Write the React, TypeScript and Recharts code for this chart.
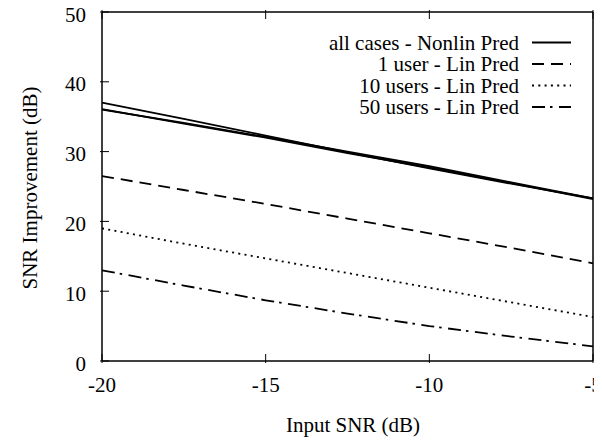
import { LineChart, Line, XAxis, YAxis, Legend } from "recharts";

// input SNR (dB)
const snr = [-20, -17.5, -15, -12.5, -10, -7.5, -5];

// SNR improvement (dB)
const nonlinA = [37.0, 34.7, 32.3, 29.9, 27.6, 25.4, 23.3];
const nonlinB = [36.0, 34.1, 32.1, 30.0, 27.9, 25.6, 23.3];
const nonlinC = [36.1, 34.0, 32.0, 29.8, 27.7, 25.5, 23.2];
const lin1 = [26.5, 24.5, 22.5, 20.4, 18.3, 16.2, 14.0];
const lin10 = [19.0, 16.8, 14.7, 12.6, 10.5, 8.4, 6.3];
const lin50 = [13.0, 10.8, 8.7, 6.8, 5.0, 3.5, 2.1];

const xTicks = [-20, -15, -10, -5];
const yTicks = [0, 10, 20, 30, 40, 50];

const data = snr.map((x, i) => ({
  snr: x,
  a: nonlinA[i],
  b: nonlinB[i],
  c: nonlinC[i],
  l1: lin1[i],
  l10: lin10[i],
  l50: lin50[i],
}));

const FONT = "Liberation Serif, Times New Roman, DejaVu Serif, serif";
const FS = 21;
const txt = { fontFamily: FONT, fontSize: FS };

const series = [
  { key: "a", name: "all cases - Nonlin Pred", dash: undefined, legend: true },
  { key: "b", name: "all cases b", dash: undefined, legend: false },
  { key: "c", name: "all cases c", dash: undefined, legend: false },
  { key: "l1", name: "1 user - Lin Pred", dash: "12 7", legend: true },
  { key: "l10", name: "10 users - Lin Pred", dash: "2 4.3", legend: true },
  { key: "l50", name: "50 users - Lin Pred", dash: "13 5 2.5 6.5", legend: true },
];

const BottomTick = (props: any) => {
  const { x, y, payload } = props;
  return (
    <g>
      <line x1={x} y1={y} x2={x} y2={y - 9} stroke="#000" strokeWidth={1} />
      <text x={x} y={y + 29} textAnchor="middle" style={txt} fill="#000">
        {payload.value}
      </text>
    </g>
  );
};

const LeftTick = (props: any) => {
  const { x, y, payload } = props;
  return (
    <g>
      <line x1={x} y1={y} x2={x + 9} y2={y} stroke="#000" strokeWidth={1} />
      <text x={x - 14} y={y + 9.5} textAnchor="end" style={txt} fill="#000">
        {payload.value}
      </text>
    </g>
  );
};

const TopTick = (props: any) => {
  const { x, y } = props;
  return <line x1={x} y1={y} x2={x} y2={y + 9} stroke="#000" strokeWidth={1} />;
};

const RightTick = (props: any) => {
  const { x, y } = props;
  return <line x1={x} y1={y} x2={x - 9} y2={y} stroke="#000" strokeWidth={1} />;
};

const renderLegend = () => (
  <svg width={594} height={120} style={{ display: "block" }}>
    {series
      .filter((s) => s.legend)
      .map((s, i) => {
        const cy = 34.5 + i * 21.5;
        return (
          <g key={s.key}>
            <text x={511} y={cy} textAnchor="end" dominantBaseline="central" style={txt} fill="#000">
              {s.name}
            </text>
            <line x1={524} y1={cy} x2={563} y2={cy} stroke="#000" strokeWidth={2} strokeDasharray={s.dash} />
          </g>
        );
      })}
  </svg>
);

export default function App() {
  return (
    <div style={{ fontFamily: FONT }}>
      <style>{"svg.recharts-surface, .recharts-wrapper{overflow:visible !important}"}</style>
      <LineChart
        width={594}
        height={433}
        data={data}
        margin={{ top: 3, right: 8, left: 0, bottom: 0 }}
      >
        <XAxis
          dataKey="snr"
          type="number"
          domain={[-20, -5]}
          ticks={xTicks}
          interval={0}
          height={80}
          tickSize={0}
          tickLine={false}
          axisLine={{ stroke: "#000", strokeWidth: 1.5 }}
          tick={<BottomTick />}
          label={(p: any) => {
            const vb = p.viewBox;
            return (
              <text
                x={vb.x + vb.width / 2 + 5.5}
                y={vb.y + 64}
                textAnchor="middle"
                dominantBaseline="central"
                style={txt}
                fill="#000"
              >
                Input SNR (dB)
              </text>
            );
          }}
        />
        <XAxis
          xAxisId="top"
          dataKey="snr"
          type="number"
          orientation="top"
          domain={[-20, -5]}
          ticks={xTicks}
          interval={0}
          height={1}
          tickSize={0}
          tickLine={false}
          axisLine={{ stroke: "#000", strokeWidth: 1.5 }}
          tick={<TopTick />}
        />
        <YAxis
          type="number"
          domain={[0, 50]}
          ticks={yTicks}
          interval={0}
          width={94}
          tickSize={0}
          tickLine={false}
          axisLine={{ stroke: "#000", strokeWidth: 1.5 }}
          tick={<LeftTick />}
          label={(p: any) => {
            const vb = p.viewBox;
            const cx = vb.x + 22;
            const cy = vb.y + vb.height / 2 + 1.5;
            return (
              <text
                x={cx}
                y={cy}
                transform={`rotate(-90, ${cx}, ${cy})`}
                textAnchor="middle"
                dominantBaseline="central"
                style={txt}
                fill="#000"
              >
                SNR Improvement (dB)
              </text>
            );
          }}
        />
        <YAxis
          yAxisId="right"
          orientation="right"
          type="number"
          domain={[0, 50]}
          ticks={yTicks}
          interval={0}
          width={1}
          tickSize={0}
          tickLine={false}
          axisLine={{ stroke: "#000", strokeWidth: 1.5 }}
          tick={<RightTick />}
        />
        <Legend
          layout="vertical"
          align="center"
          verticalAlign="middle"
          content={renderLegend}
          wrapperStyle={{ left: 0, top: 0, width: 594, height: 120 }}
        />
        {series.map((s) => (
          <Line
            key={s.key}
            dataKey={s.key}
            name={s.name}
            type="linear"
            stroke="#000"
            strokeWidth={1.8}
            strokeDasharray={s.dash}
            dot={false}
            activeDot={false}
            legendType={s.legend ? "line" : "none"}
            isAnimationActive={false}
          />
        ))}
      </LineChart>
    </div>
  );
}
